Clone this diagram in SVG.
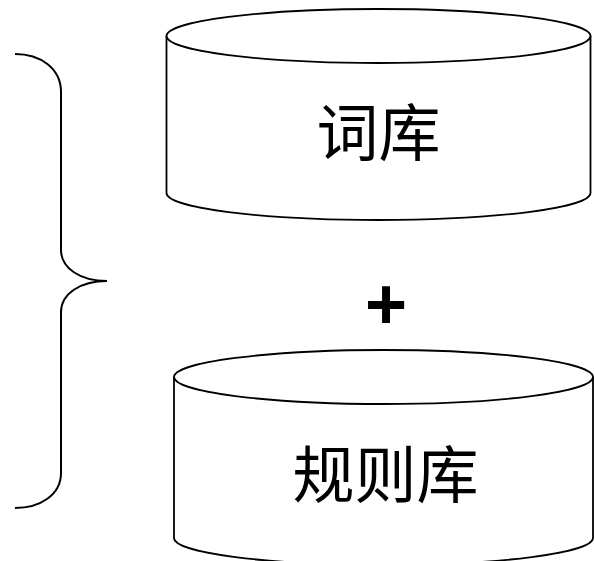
<svg xmlns="http://www.w3.org/2000/svg" width="594" height="561" viewBox="0 0 594 561">
<style>
.shape{fill:#fff;stroke:#000;stroke-width:1.8}
.line{fill:none;stroke:#000;stroke-width:2}
.lbl{font-family:"Noto Sans CJK SC","Liberation Serif",sans-serif;font-size:62px;fill:#000;text-anchor:middle}
.plus{font-family:"Liberation Sans",Arial,sans-serif;font-weight:bold;font-size:72px;fill:#000;text-anchor:middle}
</style>
<rect width="594" height="561" fill="#fff"/>
<g id="brace">
<path class="line" d="M15,54 C40,54 61,68 61,92 L61,250 C61,268 80,281 107,281 C80,281 61,294 61,312 L61,473 C61,495 40,508 15,508"/>
</g>
<g id="cidian">
<path class="shape" d="M166.5,36 L166.5,193 A212,27 0 0 0 590.5,193 L590.5,36"/>
<ellipse class="shape" cx="378.5" cy="36" rx="212" ry="27"/>
<text class="lbl" x="378.5" y="156">词库</text>
</g>
<g id="plus">
<text class="plus" x="386" y="329">+</text>
</g>
<g id="guize">
<path class="shape" d="M174,377 L174,538 A209.5,27 0 0 0 593,538 L593,377"/>
<ellipse class="shape" cx="383.5" cy="377" rx="209.5" ry="27"/>
<text class="lbl" x="385.5" y="498">规则库</text>
</g>
</svg>
